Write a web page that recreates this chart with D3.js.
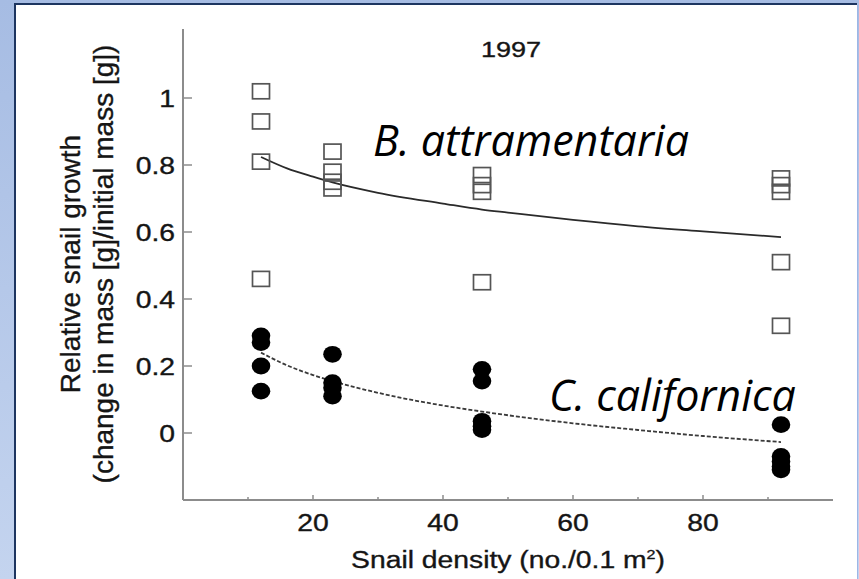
<!DOCTYPE html>
<html>
<head>
<meta charset="utf-8">
<script src="https://cdn.jsdelivr.net/npm/d3@7"></script>
<style>
  body { margin: 0; background: #fff; }
  svg { display: block; }
</style>
</head>
<body>
<div id="chart"></div>
<script>
// snail density treatments (no./0.1 m2)
var bDensity = [12, 12, 12, 12, 23, 23, 23, 23, 46, 46, 46, 46, 92, 92, 92, 92, 92];
var bGrowth  = [1.02, 0.93, 0.81, 0.46, 0.84, 0.78, 0.75, 0.73, 0.77, 0.74, 0.72, 0.45, 0.76, 0.74, 0.72, 0.51, 0.32];

var cDensity = [12, 12, 12, 12, 23, 23, 23, 23, 46, 46, 46, 46, 46, 92, 92, 92, 92, 92];
var cGrowth  = [0.29, 0.27, 0.20, 0.125, 0.235, 0.15, 0.135, 0.11, 0.19, 0.155, 0.035, 0.02, 0.01, 0.025, -0.07, -0.085, -0.10, -0.11];

// fitted curves
var fitDensity = [12, 16, 20, 23, 30, 40, 46, 50, 60, 70, 80, 92];
var bFit = [0.824, 0.79, 0.765, 0.748, 0.717, 0.685, 0.667, 0.658, 0.636, 0.617, 0.602, 0.585];
var cFit = [0.24, 0.202, 0.173, 0.155, 0.12, 0.082, 0.064, 0.053, 0.029, 0.009, -0.009, -0.027];

var yTicks = [0, 0.2, 0.4, 0.6, 0.8, 1];
var yTickLabels = ["0", "0.2", "0.4", "0.6", "0.8", "1"];
var xTicks = [20, 40, 60, 80];
var xMinorTicks = [10, 30, 50, 70, 90];

var W = 859, H = 579;
var font = "'Liberation Sans', Arial, Helvetica, sans-serif";
var stretch = 1.23;   // the printed figure is wider than tall

var x = d3.scaleLinear().domain([0, 100]).range([183, 833]),
    y = d3.scaleLinear().domain([-0.2, 1.2]).range([500, 31]);

var svg = d3.select("#chart").append("svg")
    .attr("width", W)
    .attr("height", H);

/* slide background */
var grad = svg.append("defs").append("linearGradient")
    .attr("id", "bg")
    .attr("x1", 0).attr("y1", 0).attr("x2", 0).attr("y2", 1);
grad.append("stop").attr("offset", "0%").attr("stop-color", "#a6bce3");
grad.append("stop").attr("offset", "100%").attr("stop-color", "#c4d4ef");

svg.append("rect").attr("width", W).attr("height", H).style("fill", "url(#bg)");
svg.append("rect")
    .attr("x", 16).attr("y", 5)
    .attr("width", 841).attr("height", H - 5)
    .style("fill", "#fff");
svg.append("rect").attr("x", 14).attr("y", 3).attr("width", 2).attr("height", H - 3).style("fill", "#1d3560");
svg.append("rect").attr("x", 14).attr("y", 3).attr("width", 843).attr("height", 2).style("fill", "#1d3560");
svg.append("rect").attr("x", 857).attr("y", 5).attr("width", 1).attr("height", H - 5).style("fill", "#9db6e6");

var vis = svg.append("g");

function label(px, py, anchor, size, str) {
  return vis.append("text")
    .attr("transform", "translate(" + px + "," + py + ") scale(" + stretch + ",1)")
    .attr("text-anchor", anchor)
    .style("font-family", font)
    .style("font-size", size + "px")
    .style("fill", "#151515")
    .style("stroke", "#151515")
    .style("stroke-width", 0.35)
    .text(str);
}

/* axes */
vis.append("line")
    .attr("x1", x(0)).attr("x2", x(0))
    .attr("y1", y.range()[1] - 2).attr("y2", y.range()[0])
    .style("stroke", "#8c8c8c").style("stroke-width", 2);

vis.append("line")
    .attr("x1", x(0)).attr("x2", x.range()[1])
    .attr("y1", y.range()[0]).attr("y2", y.range()[0])
    .style("stroke", "#8c8c8c").style("stroke-width", 2);

vis.selectAll(".ytick")
    .data(yTicks)
  .enter().append("line")
    .attr("class", "ytick")
    .attr("x1", x(0)).attr("x2", x(0) + 9)
    .attr("y1", y).attr("y2", y)
    .style("stroke", "#8c8c8c").style("stroke-width", 1.5);

yTicks.forEach(function(d, i) {
  label(x(0) - 8, y(d) + 8.5, "end", 23, yTickLabels[i]);
});

vis.selectAll(".xtick")
    .data(xTicks)
  .enter().append("line")
    .attr("class", "xtick")
    .attr("x1", x).attr("x2", x)
    .attr("y1", y.range()[0]).attr("y2", y.range()[0] - 5)
    .style("stroke", "#8c8c8c").style("stroke-width", 1.5);

vis.selectAll(".xminor")
    .data(xMinorTicks)
  .enter().append("line")
    .attr("class", "xminor")
    .attr("x1", x).attr("x2", x)
    .attr("y1", y.range()[0]).attr("y2", y.range()[0] - 3)
    .style("stroke", "#8c8c8c").style("stroke-width", 1.5);

xTicks.forEach(function(d) {
  label(x(d), 531, "middle", 23, d);
});

/* axis titles */
var xt = label(508, 568, "middle", 23, "Snail density (no./0.1 m");
xt.append("tspan")
    .attr("dy", -9)
    .style("font-size", "13px")
    .text("2");
xt.append("tspan")
    .attr("dy", 9)
    .text(")");

label(511, 57, "middle", 22, "1997");

var ylab = vis.append("g")
    .attr("transform", "translate(0,264) rotate(-90)");
ylab.append("text")
    .attr("y", 80)
    .attr("text-anchor", "middle")
    .style("font-family", font)
    .style("font-size", "28px")
    .style("fill", "#151515")
    .style("stroke", "#151515")
    .style("stroke-width", 0.35)
    .text("Relative snail growth");
ylab.append("text")
    .attr("y", 113)
    .attr("text-anchor", "middle")
    .style("font-family", font)
    .style("font-size", "28px")
    .style("fill", "#151515")
    .style("stroke", "#151515")
    .style("stroke-width", 0.35)
    .text("(change in mass [g]/initial mass [g])");

/* fitted curves */
var line = d3.line()
    .x(function(d, i) { return x(fitDensity[i]); })
    .y(function(d) { return y(d); })
    .curve(d3.curveMonotoneX);

vis.append("path")
    .attr("d", line(bFit))
    .style("fill", "none")
    .style("stroke", "#2a2a2a")
    .style("stroke-width", 1.8);

vis.append("path")
    .attr("d", line(cFit))
    .style("fill", "none")
    .style("stroke", "#3a3a3a")
    .style("stroke-width", 1.8)
    .style("stroke-dasharray", "4,2");

/* B. attramentaria: open squares */
vis.selectAll(".sq")
    .data(bGrowth)
  .enter().append("rect")
    .attr("class", "sq")
    .attr("x", function(d, i) { return x(bDensity[i]) - 8.5; })
    .attr("y", function(d) { return y(d) - 7.5; })
    .attr("width", 17)
    .attr("height", 15)
    .style("fill", "none")
    .style("stroke", "#555")
    .style("stroke-width", 1.7);

/* C. californica: filled circles */
vis.selectAll(".dot")
    .data(cGrowth)
  .enter().append("ellipse")
    .attr("class", "dot")
    .attr("cx", function(d, i) { return x(cDensity[i]); })
    .attr("cy", function(d) { return y(d); })
    .attr("rx", 9.3)
    .attr("ry", 8.4)
    .style("fill", "#000");

/* species names */
vis.append("text")
    .attr("x", 373).attr("y", 156)
    .style("font-family", "'Open Sans', sans-serif")
    .style("font-style", "italic")
    .style("font-size", "43px")
    .style("fill", "#000")
    .text("B. attramentaria");

vis.append("text")
    .attr("x", 549).attr("y", 411)
    .style("font-family", "'Open Sans', sans-serif")
    .style("font-style", "italic")
    .style("font-size", "43px")
    .style("fill", "#000")
    .text("C. californica");
</script>
</body>
</html>
